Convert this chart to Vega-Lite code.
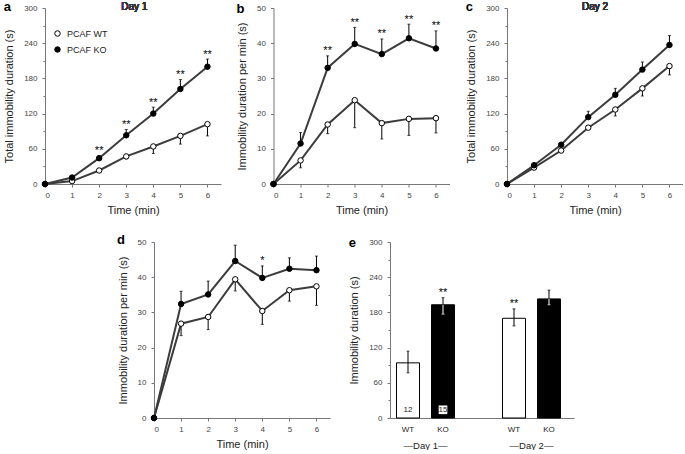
{
 "$schema": "https://vega.github.io/schema/vega-lite/v6.json",
 "background": "white",
 "padding": {"left": 3, "right": 0, "top": 1, "bottom": 0},
 "config": {
  "font": "Liberation Sans",
  "view": {"stroke": null},
  "axis": {"labelFont": "Liberation Sans", "labelFontSize": 8, "labelColor": "#444", "labelOverlap": false, "titleFont": "Liberation Sans", "titleFontSize": 11, "titleFontWeight": "normal", "titleColor": "#222", "domainColor": "#777", "tickColor": "#777", "tickSize": 3, "grid": false, "labelPadding": 4},
  "title": {"font": "Liberation Sans", "fontSize": 13, "fontWeight": "bold", "anchor": "start", "frame": "bounds", "offset": -12, "color": "black"},
  "text": {"font": "Liberation Sans", "fontWeight": "normal"}
 },
 "datasets": {
  "a": [
   {"t":0,"g":"WT","v":0,"e":0,"sig":""},
   {"t":1,"g":"WT","v":5,"e":3,"sig":""},
   {"t":2,"g":"WT","v":23,"e":20,"sig":""},
   {"t":3,"g":"WT","v":47,"e":43,"sig":""},
   {"t":4,"g":"WT","v":64,"e":52,"sig":""},
   {"t":5,"g":"WT","v":82,"e":68,"sig":""},
   {"t":6,"g":"WT","v":102,"e":82,"sig":""},
   {"t":0,"g":"KO","v":0,"e":0,"sig":""},
   {"t":1,"g":"KO","v":11,"e":14,"sig":""},
   {"t":2,"g":"KO","v":44,"e":48,"sig":"**"},
   {"t":3,"g":"KO","v":83,"e":93,"sig":"**"},
   {"t":4,"g":"KO","v":120,"e":131,"sig":"**"},
   {"t":5,"g":"KO","v":162,"e":178,"sig":"**"},
   {"t":6,"g":"KO","v":200,"e":213,"sig":"**"}
  ],
  "b": [
   {"t":0,"g":"WT","v":0,"e":0,"sig":""},
   {"t":1,"g":"WT","v":6.7,"e":4.6,"sig":""},
   {"t":2,"g":"WT","v":16.9,"e":14.3,"sig":""},
   {"t":3,"g":"WT","v":23.8,"e":16.0,"sig":""},
   {"t":4,"g":"WT","v":17.3,"e":12.8,"sig":""},
   {"t":5,"g":"WT","v":18.5,"e":13.8,"sig":""},
   {"t":6,"g":"WT","v":18.7,"e":14.5,"sig":""},
   {"t":0,"g":"KO","v":0,"e":0,"sig":""},
   {"t":1,"g":"KO","v":11.5,"e":14.6,"sig":""},
   {"t":2,"g":"KO","v":33.0,"e":36.4,"sig":"**"},
   {"t":3,"g":"KO","v":39.8,"e":44.5,"sig":"**"},
   {"t":4,"g":"KO","v":36.9,"e":41.2,"sig":"**"},
   {"t":5,"g":"KO","v":41.4,"e":45.4,"sig":"**"},
   {"t":6,"g":"KO","v":38.5,"e":43.5,"sig":"**"}
  ],
  "c": [
   {"t":0,"g":"WT","v":0,"e":0,"sig":""},
   {"t":1,"g":"WT","v":28,"e":27,"sig":""},
   {"t":2,"g":"WT","v":57,"e":56,"sig":""},
   {"t":3,"g":"WT","v":96,"e":93,"sig":""},
   {"t":4,"g":"WT","v":127,"e":116,"sig":""},
   {"t":5,"g":"WT","v":163,"e":150,"sig":""},
   {"t":6,"g":"WT","v":201,"e":186,"sig":""},
   {"t":0,"g":"KO","v":0,"e":0,"sig":""},
   {"t":1,"g":"KO","v":32,"e":33,"sig":""},
   {"t":2,"g":"KO","v":67,"e":69,"sig":""},
   {"t":3,"g":"KO","v":114,"e":124,"sig":""},
   {"t":4,"g":"KO","v":152,"e":163,"sig":""},
   {"t":5,"g":"KO","v":195,"e":208,"sig":""},
   {"t":6,"g":"KO","v":237,"e":253,"sig":""}
  ],
  "d": [
   {"t":0,"g":"WT","v":0,"e":0,"sig":""},
   {"t":1,"g":"WT","v":26.8,"e":23.4,"sig":""},
   {"t":2,"g":"WT","v":28.7,"e":25.1,"sig":""},
   {"t":3,"g":"WT","v":39.4,"e":36.1,"sig":""},
   {"t":4,"g":"WT","v":30.4,"e":26.6,"sig":""},
   {"t":5,"g":"WT","v":36.3,"e":33.2,"sig":""},
   {"t":6,"g":"WT","v":37.4,"e":32.0,"sig":""},
   {"t":0,"g":"KO","v":0,"e":0,"sig":""},
   {"t":1,"g":"KO","v":32.4,"e":36.0,"sig":""},
   {"t":2,"g":"KO","v":35.1,"e":38.9,"sig":""},
   {"t":3,"g":"KO","v":44.6,"e":49.1,"sig":""},
   {"t":4,"g":"KO","v":39.8,"e":43.2,"sig":"*"},
   {"t":5,"g":"KO","v":42.4,"e":45.5,"sig":""},
   {"t":6,"g":"KO","v":42.0,"e":46.0,"sig":""}
  ],
  "e": [
   {"day":"Day 1","g":"WT","mean":94,"lo":77,"hi":114,"n":"12","sig":""},
   {"day":"Day 1","g":"KO","mean":193,"lo":177,"hi":205,"n":"15","sig":"**"},
   {"day":"Day 2","g":"WT","mean":170,"lo":157,"hi":186,"n":"","sig":"**"},
   {"day":"Day 2","g":"KO","mean":203,"lo":193,"hi":218,"n":"","sig":""}
  ]
 },
 "center": true,
 "spacing": 18,
 "resolve": {"scale": {"fill": "independent"}, "legend": {"fill": "independent"}},
 "vconcat": [
  {
   "spacing": 15.5,
   "resolve": {"scale": {"fill": "independent"}, "legend": {"fill": "independent"}},
   "hconcat": [
    {
     "width": 176, "height": 176,
     "title": {"text": "a"},
     "data": {"name": "a"},
     "encoding": {
      "x": {"field": "t", "type": "quantitative", "scale": {"domain": [0, 6.5], "nice": false}, "axis": {"values": [0,1,2,3,4,5,6], "tickCount": 20, "format": "d", "title": "Time (min)", "titlePadding": 5}}
     },
     "layer": [
      {"mark": {"type": "line", "color": "#3c3c3c", "strokeWidth": 2},
       "encoding": {"y": {"field": "v", "type": "quantitative", "scale": {"domain": [0, 300], "nice": false},
         "axis": {"values": [0,30,60,90,120,150,180,210,240,270,300], "tickCount": 20, "format": "d", "labelExpr": "datum.value % 60 === 0 ? datum.label : ''", "tickSize": {"condition": {"test": "datum.value % 60 === 0", "value": 3}, "value": 2}, "title": "Total immobility duration (s)", "titlePadding": 9, "labelPadding": 5}},
        "detail": {"field": "g"}}},
      {"transform": [{"filter": "datum.t > 0"}], "mark": {"type": "rule", "color": "black", "strokeWidth": 1},
       "encoding": {"y": {"field": "v", "type": "quantitative"}, "y2": {"field": "e"}}},
      {"transform": [{"filter": "datum.t > 0"}], "mark": {"type": "tick", "orient": "horizontal", "size": 3, "thickness": 1, "color": "black"},
       "encoding": {"y": {"field": "e", "type": "quantitative"}}},
      {"mark": {"type": "point", "filled": true, "size": 30, "stroke": "black", "strokeWidth": 1, "opacity": 1},
       "encoding": {"y": {"field": "v", "type": "quantitative"},
        "fill": {"field": "g", "type": "nominal", "scale": {"domain": ["WT", "KO"], "range": ["white", "black"]},
         "legend": {"orient": "none", "legendX": 8, "legendY": 21, "title": null, "labelExpr": "'PCAF ' + datum.label", "symbolType": "circle", "symbolSize": 30, "symbolStrokeColor": "black", "symbolStrokeWidth": 1, "labelFontSize": 9, "labelFont": "Liberation Sans", "labelColor": "#222", "rowPadding": 5, "labelOffset": 5, "padding": 0}}}},
      {"mark": {"type": "text", "baseline": "alphabetic", "dy": -1.5, "fontSize": 11, "color": "black"},
       "encoding": {"y": {"field": "e", "type": "quantitative"}, "text": {"field": "sig"}}},
      {"mark": {"type": "text", "baseline": "middle", "fontSize": 10, "fontWeight": "normal", "color": "#333"},
       "encoding": {"x": {"datum": 3.3}, "y": {"datum": 301}, "text": {"value": "Day 1"}}}
     ]
    },
    {
     "width": 176, "height": 176,
     "title": {"text": "b"},
     "data": {"name": "b"},
     "encoding": {
      "x": {"field": "t", "type": "quantitative", "scale": {"domain": [0, 6.5], "nice": false}, "axis": {"values": [0,1,2,3,4,5,6], "tickCount": 20, "format": "d", "title": "Time (min)", "titlePadding": 5}}
     },
     "layer": [
      {"mark": {"type": "line", "color": "#3c3c3c", "strokeWidth": 2},
       "encoding": {"y": {"field": "v", "type": "quantitative", "scale": {"domain": [0, 50], "nice": false},
         "axis": {"values": [0,10,20,30,40,50], "tickCount": 20, "format": "d", "title": "Immobility duration per min (s)", "titlePadding": 9, "labelPadding": 5}},
        "detail": {"field": "g"}}},
      {"transform": [{"filter": "datum.t > 0"}], "mark": {"type": "rule", "color": "black", "strokeWidth": 1},
       "encoding": {"y": {"field": "v", "type": "quantitative"}, "y2": {"field": "e"}}},
      {"transform": [{"filter": "datum.t > 0"}], "mark": {"type": "tick", "orient": "horizontal", "size": 3, "thickness": 1, "color": "black"},
       "encoding": {"y": {"field": "e", "type": "quantitative"}}},
      {"mark": {"type": "point", "filled": true, "size": 30, "stroke": "black", "strokeWidth": 1, "opacity": 1},
       "encoding": {"y": {"field": "v", "type": "quantitative"},
        "fill": {"field": "g", "type": "nominal", "scale": {"domain": ["WT", "KO"], "range": ["white", "black"]}, "legend": null}}},
      {"mark": {"type": "text", "baseline": "alphabetic", "dy": -1.5, "fontSize": 11, "color": "black"},
       "encoding": {"y": {"field": "e", "type": "quantitative"}, "text": {"field": "sig"}}}
     ]
    },
    {
     "width": 176, "height": 176,
     "title": {"text": "c"},
     "data": {"name": "c"},
     "encoding": {
      "x": {"field": "t", "type": "quantitative", "scale": {"domain": [0, 6.5], "nice": false}, "axis": {"values": [0,1,2,3,4,5,6], "tickCount": 20, "format": "d", "title": "Time (min)", "titlePadding": 5}}
     },
     "layer": [
      {"mark": {"type": "line", "color": "#3c3c3c", "strokeWidth": 2},
       "encoding": {"y": {"field": "v", "type": "quantitative", "scale": {"domain": [0, 300], "nice": false},
         "axis": {"values": [0,30,60,90,120,150,180,210,240,270,300], "tickCount": 20, "format": "d", "labelExpr": "datum.value % 60 === 0 ? datum.label : ''", "tickSize": {"condition": {"test": "datum.value % 60 === 0", "value": 3}, "value": 2}, "title": "Total immobility duration (s)", "titlePadding": 9, "labelPadding": 5}},
        "detail": {"field": "g"}}},
      {"transform": [{"filter": "datum.t > 0"}], "mark": {"type": "rule", "color": "black", "strokeWidth": 1},
       "encoding": {"y": {"field": "v", "type": "quantitative"}, "y2": {"field": "e"}}},
      {"transform": [{"filter": "datum.t > 0"}], "mark": {"type": "tick", "orient": "horizontal", "size": 3, "thickness": 1, "color": "black"},
       "encoding": {"y": {"field": "e", "type": "quantitative"}}},
      {"mark": {"type": "point", "filled": true, "size": 30, "stroke": "black", "strokeWidth": 1, "opacity": 1},
       "encoding": {"y": {"field": "v", "type": "quantitative"},
        "fill": {"field": "g", "type": "nominal", "scale": {"domain": ["WT", "KO"], "range": ["white", "black"]}, "legend": null}}},
      {"mark": {"type": "text", "baseline": "middle", "fontSize": 10, "fontWeight": "normal", "color": "#333"},
       "encoding": {"x": {"datum": 3.25}, "y": {"datum": 301}, "text": {"value": "Day 2"}}}
     ]
    }
   ]
  },
  {
   "spacing": 18,
   "resolve": {"scale": {"fill": "independent"}, "legend": {"fill": "independent"}},
   "hconcat": [
    {
     "width": 176, "height": 176,
     "title": {"text": "d"},
     "data": {"name": "d"},
     "encoding": {
      "x": {"field": "t", "type": "quantitative", "scale": {"domain": [0, 6.5], "nice": false}, "axis": {"values": [0,1,2,3,4,5,6], "tickCount": 20, "format": "d", "title": "Time (min)", "titlePadding": 5}}
     },
     "layer": [
      {"mark": {"type": "line", "color": "#3c3c3c", "strokeWidth": 2},
       "encoding": {"y": {"field": "v", "type": "quantitative", "scale": {"domain": [0, 50], "nice": false},
         "axis": {"values": [0,10,20,30,40,50], "tickCount": 20, "format": "d", "title": "Immobility duration per min (s)", "titlePadding": 9, "labelPadding": 5}},
        "detail": {"field": "g"}}},
      {"transform": [{"filter": "datum.t > 0"}], "mark": {"type": "rule", "color": "black", "strokeWidth": 1},
       "encoding": {"y": {"field": "v", "type": "quantitative"}, "y2": {"field": "e"}}},
      {"transform": [{"filter": "datum.t > 0"}], "mark": {"type": "tick", "orient": "horizontal", "size": 3, "thickness": 1, "color": "black"},
       "encoding": {"y": {"field": "e", "type": "quantitative"}}},
      {"mark": {"type": "point", "filled": true, "size": 30, "stroke": "black", "strokeWidth": 1, "opacity": 1},
       "encoding": {"y": {"field": "v", "type": "quantitative"},
        "fill": {"field": "g", "type": "nominal", "scale": {"domain": ["WT", "KO"], "range": ["white", "black"]}, "legend": null}}},
      {"mark": {"type": "text", "baseline": "alphabetic", "dy": -1.5, "fontSize": 11, "color": "black"},
       "encoding": {"y": {"field": "e", "type": "quantitative"}, "text": {"field": "sig"}}}
     ]
    },
    {
     "width": 184, "height": 176,
     "title": {"text": "e"},
     "data": {"name": "e"},
     "encoding": {
      "x": {"field": "day", "type": "nominal", "sort": ["Day 1", "Day 2"], "scale": {"paddingInner": 0.33, "paddingOuter": 0.033, "align": 0},
        "axis": {"title": null, "ticks": false, "tickSize": 0, "labelAngle": 0, "labelPadding": 22, "labelFontSize": 9.5, "labelColor": "#222", "labelExpr": "'—' + datum.label + '—'"}},
      "xOffset": {"field": "g", "type": "nominal", "sort": ["WT", "KO"], "scale": {"paddingInner": 0.343, "paddingOuter": 0.186}}
     },
     "layer": [
      {"mark": {"type": "bar", "stroke": "black", "strokeWidth": 1},
       "encoding": {"y": {"field": "mean", "type": "quantitative", "scale": {"domain": [0, 300], "nice": false},
         "axis": {"values": [0,30,60,90,120,150,180,210,240,270,300], "tickCount": 20, "format": "d", "labelExpr": "datum.value % 60 === 0 ? datum.label : ''", "tickSize": {"condition": {"test": "datum.value % 60 === 0", "value": 3}, "value": 2}, "title": "Immobility duration (s)", "titlePadding": 9, "labelPadding": 5}},
        "fill": {"field": "g", "type": "nominal", "scale": {"domain": ["WT", "KO"], "range": ["white", "black"]}, "legend": null}}},
      {"mark": {"type": "rule", "color": "black", "strokeWidth": 1},
       "encoding": {"y": {"field": "mean", "type": "quantitative"}, "y2": {"field": "hi"}}},
      {"mark": {"type": "tick", "orient": "horizontal", "size": 3, "thickness": 1, "color": "black"},
       "encoding": {"y": {"field": "hi", "type": "quantitative"}}},
      {"mark": {"type": "rule", "strokeWidth": 1},
       "encoding": {"y": {"field": "lo", "type": "quantitative"}, "y2": {"field": "mean"},
        "color": {"condition": {"test": "datum.g === 'KO'", "value": "white"}, "value": "black"}}},
      {"mark": {"type": "tick", "orient": "horizontal", "size": 3, "thickness": 1},
       "encoding": {"y": {"field": "lo", "type": "quantitative"},
        "color": {"condition": {"test": "datum.g === 'KO'", "value": "white"}, "value": "black"}}},
      {"mark": {"type": "text", "baseline": "alphabetic", "dy": -1.5, "fontSize": 11, "color": "black"},
       "encoding": {"y": {"field": "hi", "type": "quantitative"}, "text": {"field": "sig"}}},
      {"transform": [{"filter": "datum.g === 'KO' && datum.n !== ''"}],
       "mark": {"type": "point", "shape": "square", "filled": true, "color": "white", "size": 75, "opacity": 1},
       "encoding": {"y": {"datum": 14}}},
      {"mark": {"type": "text", "baseline": "middle", "fontSize": 8, "color": "#222"},
       "encoding": {"y": {"datum": 14}, "text": {"field": "n"}}},
      {"mark": {"type": "text", "baseline": "middle", "fontSize": 8, "color": "#222"},
       "encoding": {"y": {"datum": -20}, "text": {"field": "g"}}}
     ]
    }
   ]
  }
 ]
}
